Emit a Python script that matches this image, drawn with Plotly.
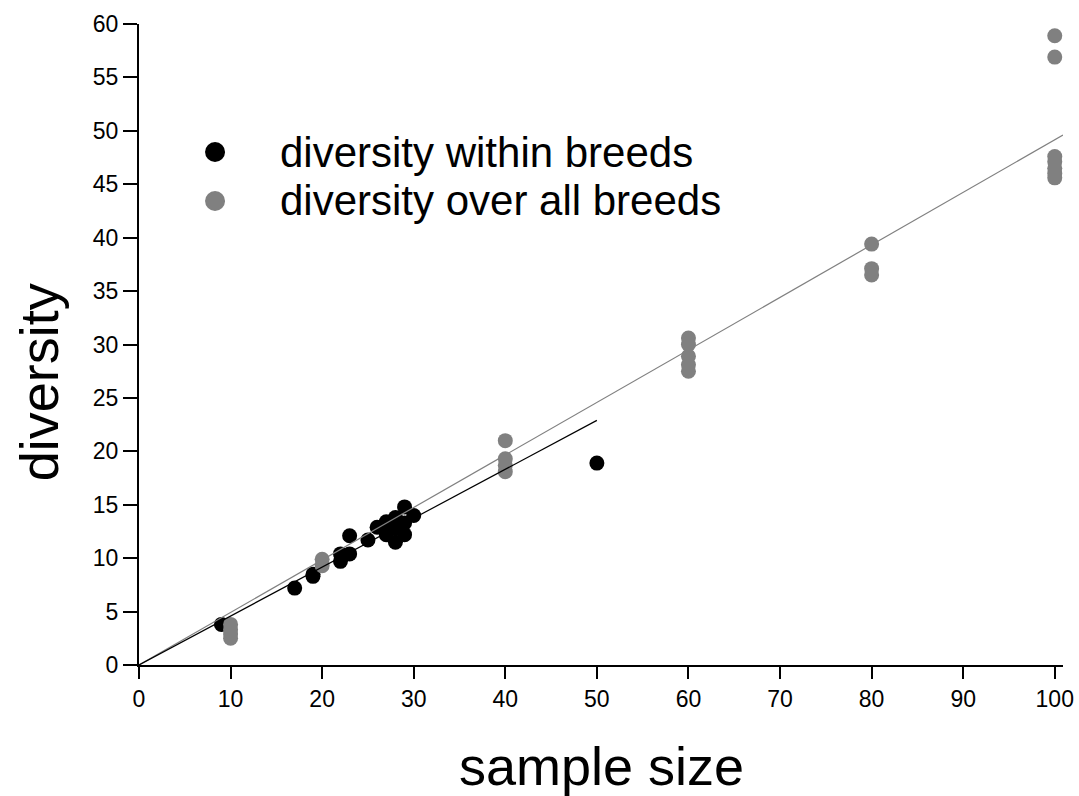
import plotly.graph_objects as go

# diversity within breeds (black)
within_x = [9, 17, 19, 19, 22, 22, 23, 23, 25, 26, 27, 27, 27, 28, 28, 28, 29, 29, 29, 30, 50]
within_y = [3.8, 7.2, 8.3, 8.5, 9.7, 10.4, 12.1, 10.4, 11.7, 12.9, 13.4, 12.6, 12.2,
            13.8, 11.5, 12.8, 14.8, 12.2, 13.3, 14.0, 18.9]

# diversity over all breeds (grey)
all_x = [10, 10, 10, 10, 20, 20, 40, 40, 40, 40, 60, 60, 60, 60, 60,
         80, 80, 80, 100, 100, 100, 100, 100, 100, 100]
all_y = [3.8, 3.3, 2.9, 2.5, 9.9, 9.3, 21.0, 19.3, 18.7, 18.1, 30.6, 30.0, 28.9, 28.1, 27.5,
         39.4, 37.1, 36.5, 58.9, 56.9, 47.6, 47.1, 46.5, 46.0, 45.6]

# fitted lines (through origin)
fit_all_x = [0, 100.9]
fit_all_y = [0, 49.6]
fit_within_x = [0, 50]
fit_within_y = [0, 22.9]

x_ticks = list(range(0, 101, 10))
y_ticks = list(range(0, 61, 5))

legend_names = ["diversity within breeds", "diversity over all breeds"]

BLACK = "#000000"
GREY = "#808080"
FONT = "Liberation Sans, Arial, sans-serif"

fig = go.Figure()
fig.add_trace(go.Scatter(x=within_x, y=within_y, mode="markers",
                         name=legend_names[0], showlegend=False,
                         marker=dict(color=BLACK, size=15)))
fig.add_trace(go.Scatter(x=all_x, y=all_y, mode="markers",
                         name=legend_names[1], showlegend=False,
                         marker=dict(color=GREY, size=15)))
fig.add_trace(go.Scatter(x=fit_all_x, y=fit_all_y, mode="lines", showlegend=False,
                         line=dict(color=GREY, width=1.2), hoverinfo="skip"))
fig.add_trace(go.Scatter(x=fit_within_x, y=fit_within_y, mode="lines", showlegend=False,
                         line=dict(color=BLACK, width=1.2), hoverinfo="skip"))

axis_common = dict(showgrid=False, zeroline=False, showline=True, linecolor="black",
                   linewidth=2, ticks="outside", tickcolor="black", tickwidth=2,
                   tickfont=dict(size=23, color="black", family=FONT))

fig.update_xaxes(range=[0, 100.9], tickvals=x_ticks, ticklen=12, **axis_common)
fig.update_yaxes(range=[0, 60], tickvals=y_ticks, ticklen=14, **axis_common)

# manual legend (marker + label)
leg_x_marker = 0.0823
leg_x_text = 0.150
leg_y = [0.8003, 0.7239]
leg_colors = [BLACK, GREY]

shapes = []
annotations = []
for name, col, yy in zip(legend_names, leg_colors, leg_y):
    shapes.append(dict(type="circle", xref="paper", yref="paper",
                       xsizemode="pixel", ysizemode="pixel",
                       xanchor=leg_x_marker, yanchor=yy,
                       x0=-10, x1=10, y0=-10, y1=10,
                       fillcolor=col, line=dict(width=0)))
    annotations.append(dict(text=name, xref="paper", yref="paper", x=leg_x_text, y=yy,
                            xanchor="left", yanchor="middle", showarrow=False,
                            font=dict(size=42, family=FONT, color="black")))

annotations += [
    dict(text="sample size", xref="paper", yref="paper", x=0.5, y=-0.157,
         xanchor="center", yanchor="middle", showarrow=False,
         font=dict(size=54, family=FONT, color="black")),
    dict(text="diversity", xref="paper", yref="paper", x=-0.108, y=0.4415,
         xanchor="center", yanchor="middle", showarrow=False, textangle=-90,
         font=dict(size=54, family=FONT, color="black")),
]

fig.update_layout(
    width=1079, height=796,
    margin=dict(l=139, r=16, t=24, b=131, autoexpand=False),
    paper_bgcolor="white", plot_bgcolor="white",
    font=dict(family=FONT, color="black"),
    showlegend=False,
    shapes=shapes,
    annotations=annotations,
)

fig.write_html("out.html")
